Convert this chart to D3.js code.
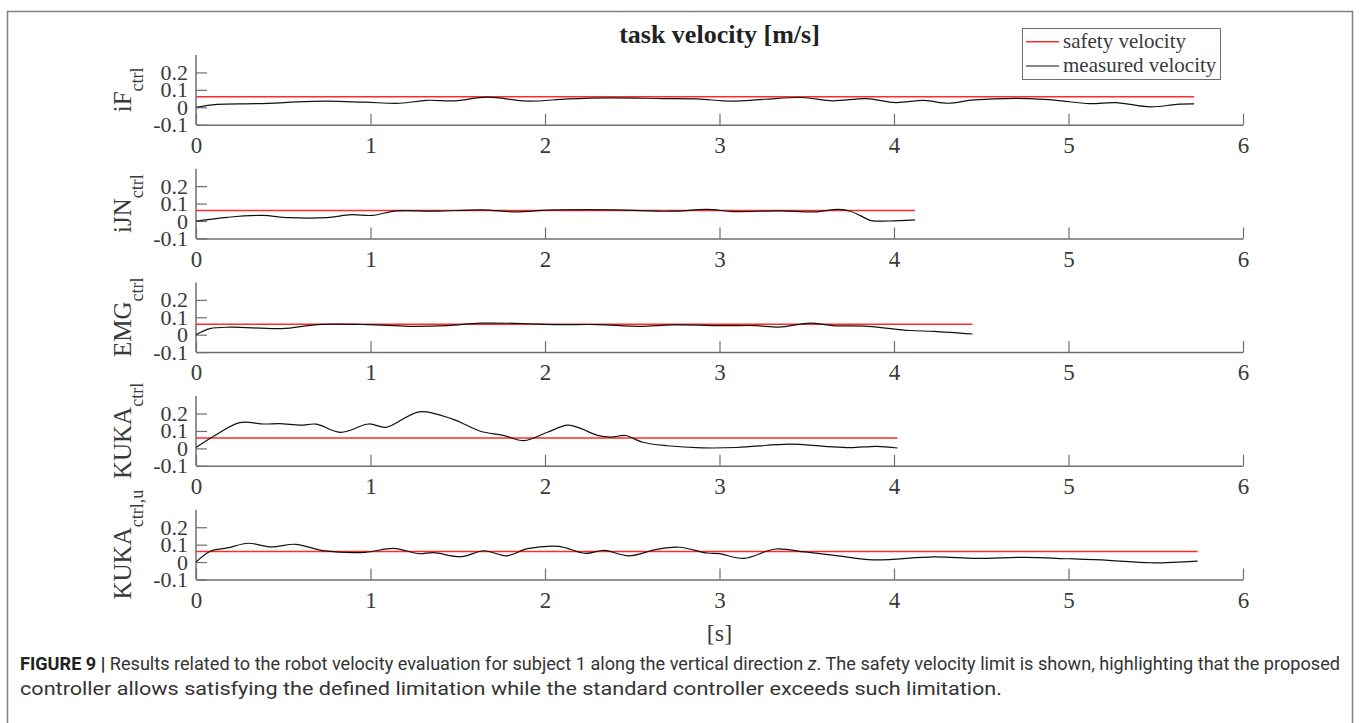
<!DOCTYPE html>
<html>
<head>
	<meta charset="utf-8">
	<script src="https://cdn.jsdelivr.net/npm/d3@7"></script>
	<style type="text/css">
		body { margin: 0; padding: 0; background: #fff; }
		svg { display: block; }
		.serif { font-family: "Liberation Serif", "Times New Roman", serif; }
	</style>
</head>
<body>
	<script type="text/javascript">

		// ---- data ----
		var panelNames = ["iF", "iJN", "EMG", "KUKA", "KUKA"];
		var panelSubs = ["ctrl", "ctrl", "ctrl", "ctrl", "ctrl,u"];
		var safetyVelocity = 0.06;
		var xTicks = [0, 1, 2, 3, 4, 5, 6];
		var yTicks = [-0.1, 0, 0.1, 0.2];
		var legendLabels = ["safety velocity", "measured velocity"];

		var tIF = [0, 0.12, 0.35, 0.74, 0.97, 1.17, 1.32, 1.48, 1.67, 1.90, 2.13, 2.37, 2.68, 2.87, 3.07, 3.26, 3.47, 3.65, 3.84, 4.01, 4.17, 4.31, 4.46, 4.77, 4.93, 5.12, 5.27, 5.47, 5.62, 5.72];
		var vIF = [0.0, 0.017, 0.021, 0.035, 0.029, 0.023, 0.040, 0.037, 0.058, 0.035, 0.048, 0.054, 0.050, 0.048, 0.035, 0.046, 0.056, 0.037, 0.050, 0.027, 0.040, 0.023, 0.042, 0.050, 0.040, 0.021, 0.027, 0.002, 0.017, 0.019];

		var tIJN = [0, 0.18, 0.38, 0.53, 0.75, 0.89, 1.01, 1.15, 1.37, 1.64, 1.83, 2.02, 2.40, 2.72, 2.93, 3.08, 3.35, 3.54, 3.68, 3.75, 3.81, 3.87, 3.97, 4.12];
		var vIJN = [0.0, 0.021, 0.032, 0.019, 0.019, 0.036, 0.032, 0.058, 0.056, 0.064, 0.052, 0.062, 0.064, 0.056, 0.066, 0.054, 0.058, 0.052, 0.066, 0.056, 0.029, 0.002, 0.0, 0.006];

		var tEMG = [0, 0.08, 0.2, 0.49, 0.70, 0.98, 1.22, 1.44, 1.63, 1.87, 2.07, 2.30, 2.54, 2.74, 3.04, 3.21, 3.34, 3.52, 3.65, 3.85, 4.09, 4.23, 4.45];
		var vEMG = [0.0, 0.035, 0.043, 0.035, 0.058, 0.058, 0.048, 0.052, 0.066, 0.064, 0.058, 0.058, 0.048, 0.056, 0.052, 0.052, 0.043, 0.066, 0.052, 0.048, 0.024, 0.019, 0.004];

		var tKUKA = [0, 0.12, 0.25, 0.39, 0.48, 0.60, 0.69, 0.83, 0.99, 1.09, 1.28, 1.47, 1.63, 1.76, 1.88, 2.01, 2.13, 2.20, 2.30, 2.38, 2.46, 2.56, 2.70, 2.90, 3.10, 3.40, 3.60, 3.75, 3.90, 4.02];
		var vKUKA = [0.005, 0.081, 0.148, 0.140, 0.142, 0.133, 0.139, 0.092, 0.140, 0.121, 0.210, 0.168, 0.098, 0.075, 0.044, 0.091, 0.133, 0.116, 0.075, 0.065, 0.074, 0.035, 0.015, 0.003, 0.005, 0.024, 0.012, 0.004, 0.012, 0.002];

		var tKUKAu = [0, 0.08, 0.18, 0.30, 0.43, 0.57, 0.74, 0.97, 1.13, 1.28, 1.36, 1.52, 1.65, 1.78, 1.90, 2.08, 2.23, 2.34, 2.48, 2.64, 2.77, 2.93, 3.0, 3.14, 3.32, 3.49, 3.68, 3.88, 4.23, 4.47, 4.75, 5.0, 5.23, 5.47, 5.74];
		var vKUKAu = [0.0, 0.061, 0.081, 0.108, 0.087, 0.102, 0.064, 0.056, 0.079, 0.048, 0.054, 0.031, 0.065, 0.036, 0.077, 0.090, 0.050, 0.067, 0.036, 0.073, 0.085, 0.052, 0.048, 0.021, 0.075, 0.058, 0.036, 0.013, 0.030, 0.021, 0.027, 0.019, 0.010, -0.004, 0.006];

		var times = [tIF, tIJN, tEMG, tKUKA, tKUKAu];
		var values = [vIF, vIJN, vEMG, vKUKA, vKUKAu];

		// ---- layout ----
		var svg = d3.select("body").append("svg")
			.attr("width", 1360)
			.attr("height", 723);

		// outer frame of the figure
		svg.append("rect")
			.attr("x", 7.5).attr("y", 11.5)
			.attr("width", 1345).attr("height", 760)
			.attr("fill", "none")
			.attr("stroke", "#808080")
			.attr("stroke-width", 1.5);

		var x = d3.scaleLinear().domain([0, 6]).range([196, 1243]);
		var firstBottom = 124.7, step = 113.7, plotH = 69.7;
		var axisColor = "#6f6f6f", textColor = "#3a3a3a";

		var line = d3.line();

		panelNames.forEach(function(name, i){
			var bottom = firstBottom + i * step;
			var y = d3.scaleLinear().domain([-0.1, 0.3]).range([bottom, bottom - plotH]);
			var g = svg.append("g");

			// y axis, ticks pointing inwards
			var ya = g.append("g")
				.attr("transform", "translate(" + x(0) + ",0)")
				.call(d3.axisLeft(y).tickValues(yTicks).tickSizeInner(-11).tickSizeOuter(0).tickPadding(8)
					.tickFormat(function(d){ return d === 0 ? "0" : d.toFixed(1); }));
			// x axis
			var xa = g.append("g")
				.attr("transform", "translate(0," + bottom + ")")
				.call(d3.axisBottom(x).tickValues(xTicks).tickSizeInner(-11).tickSizeOuter(0).tickPadding(12)
					.tickFormat(d3.format("d")));

			[ya, xa].forEach(function(a){
				a.attr("font-family", null).attr("font-size", null);
				a.select(".domain").attr("stroke", axisColor).attr("stroke-width", 1.5);
				a.selectAll(".tick line").attr("stroke", axisColor).attr("stroke-width", 1.2);
				a.selectAll(".tick text")
					.attr("class", "serif")
					.attr("fill", textColor)
					.style("font-size", "23px");
			});
			ya.selectAll(".tick text").style("font-size", "22px");
			// y axis line spans full domain, top end
			ya.select(".domain").attr("d", "M0," + (bottom - plotH) + "V" + bottom);

			// ylabel with subscript
			var lab = g.append("text")
				.attr("class", "serif")
				.attr("fill", textColor)
				.attr("text-anchor", "middle")
				.attr("transform", "translate(131," + (bottom - plotH / 2) + ") rotate(-90)")
				.style("font-size", "25px");
			lab.append("tspan").text(name);
			lab.append("tspan").attr("dy", 12).style("font-size", "18px").text(panelSubs[i]);

			var ts = times[i], vs = values[i];
			var tEnd = ts[ts.length - 1];

			// safety velocity
			g.append("path")
				.attr("d", line.curve(d3.curveLinear)([[x(0), y(safetyVelocity)], [x(tEnd), y(safetyVelocity)]]))
				.attr("stroke", "#ff2a2a")
				.attr("stroke-width", 1.5)
				.attr("fill", "none");

			// measured velocity
			var pts = ts.map(function(t, k){ return [x(t), y(vs[k])]; });
			g.append("path")
				.attr("d", line.curve(d3.curveCatmullRom.alpha(0.5))(pts))
				.attr("stroke", "#111")
				.attr("stroke-width", 1.2)
				.attr("fill", "none");
		});

		// title
		svg.append("text")
			.attr("class", "serif")
			.attr("x", 719.5).attr("y", 43)
			.attr("text-anchor", "middle")
			.attr("font-weight", "bold")
			.attr("fill", "#222")
			.style("font-size", "26px")
			.text("task velocity [m/s]");

		// x label
		svg.append("text")
			.attr("class", "serif")
			.attr("x", 719.5).attr("y", 641)
			.attr("text-anchor", "middle")
			.attr("fill", textColor)
			.style("font-size", "24px")
			.text("[s]");

		// legend
		var leg = svg.append("g");
		leg.append("rect")
			.attr("x", 1022.5).attr("y", 28.5)
			.attr("width", 198).attr("height", 51)
			.attr("fill", "#fff")
			.attr("stroke", "#6f6f6f")
			.attr("stroke-width", 1);
		var legColors = ["#ff2a2a", "#111"];
		legendLabels.forEach(function(l, i){
			var ly = 41.7 + i * 24.3;
			leg.append("line")
				.attr("x1", 1026).attr("x2", 1059)
				.attr("y1", ly).attr("y2", ly)
				.attr("stroke", legColors[i])
				.attr("stroke-width", i === 0 ? 1.5 : 1.2);
			leg.append("text")
				.attr("class", "serif")
				.attr("x", 1063).attr("y", ly + 6)
				.attr("fill", textColor)
				.style("font-size", "21px")
				.text(l);
		});

		// caption, squeezed/stretched to the widths of the original lines
		var cap = svg.append("g")
			.style("font-family", "Roboto, 'Liberation Sans', sans-serif")
			.style("font-size", "18px")
			.attr("fill", "#333");
		var c1 = cap.append("text").attr("x", 20).attr("y", 670)
			.attr("textLength", 1320).attr("lengthAdjust", "spacingAndGlyphs");
		c1.append("tspan").attr("font-weight", "bold").attr("fill", "#222").text("FIGURE 9 | ");
		c1.append("tspan").text("Results related to the robot velocity evaluation for subject 1 along the vertical direction ");
		c1.append("tspan").style("font-style", "italic").text("z");
		c1.append("tspan").text(". The safety velocity limit is shown, highlighting that the proposed");
		cap.append("text").attr("x", 20).attr("y", 695)
			.attr("textLength", 982).attr("lengthAdjust", "spacingAndGlyphs")
			.text("controller allows satisfying the defined limitation while the standard controller exceeds such limitation.");

	</script>
</body>
</html>
